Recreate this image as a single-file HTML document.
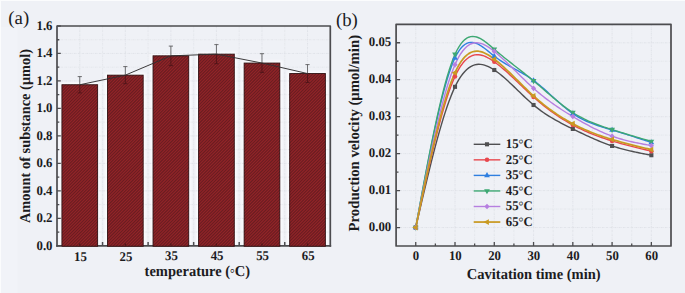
<!DOCTYPE html>
<html lang="en"><head><meta charset="utf-8"><title>Figure</title>
<style>
html,body{margin:0;padding:0;background:#eff1f6;}
body{width:685px;height:293px;overflow:hidden;position:relative}
svg{position:absolute;left:0;top:0;display:block}
text{font-family:'Liberation Serif','DejaVu Serif',serif;fill:#1c1c1e;text-rendering:geometricPrecision}
.tk{font-size:12.8px;font-weight:bold}
.tt{font-size:14.5px;font-weight:bold}
  .pl{font-size:18.8px;font-weight:normal}
.dg{font-weight:normal;font-size:11.5px}
.dg2{font-weight:normal;font-size:12.2px}
</style></head><body>
<svg width="685" height="293" viewBox="0 0 685 293">
<defs><filter id="bl" x="-20%" y="-10%" width="140%" height="120%"><feGaussianBlur stdDeviation="1.1"/></filter></defs>
<rect width="685" height="293" fill="#eff1f6"/>
<rect x="1" y="27" width="16.5" height="293" fill="#f1f3f8"/>
<path d="M0 0.5 H685 M0.5 0 V293" stroke="#fbfcfd" stroke-width="1"/>
<rect x="59.33" y="82.55" width="40.90" height="162.65" fill="#fbfcfe" filter="url(#bl)"/>
<rect x="104.88" y="72.95" width="40.90" height="172.25" fill="#fbfcfe" filter="url(#bl)"/>
<rect x="150.43" y="53.65" width="40.90" height="191.55" fill="#fbfcfe" filter="url(#bl)"/>
<rect x="195.98" y="51.95" width="40.90" height="193.25" fill="#fbfcfe" filter="url(#bl)"/>
<rect x="241.53" y="60.85" width="40.90" height="184.35" fill="#fbfcfe" filter="url(#bl)"/>
<rect x="287.07" y="71.35" width="40.90" height="173.85" fill="#fbfcfe" filter="url(#bl)"/>
<path d="M79.78 26.0 V245.8 M125.33 26.0 V245.8 M170.88 26.0 V245.8 M216.43 26.0 V245.8 M261.98 26.0 V245.8 M307.52 26.0 V245.8 M57.0 218.33 H330.3 M57.0 190.85 H330.3 M57.0 163.38 H330.3 M57.0 135.90 H330.3 M57.0 108.43 H330.3 M57.0 80.95 H330.3 M57.0 53.47 H330.3" stroke="#d9dbe1" stroke-width="0.65" stroke-dasharray="1.8 0.9 0.6 0.9" fill="none"/>
<path d="M102.55 26.0 V245.8 M148.10 26.0 V245.8 M193.65 26.0 V245.8 M239.20 26.0 V245.8 M284.75 26.0 V245.8 M57.0 232.06 H330.3 M57.0 204.59 H330.3 M57.0 177.11 H330.3 M57.0 149.64 H330.3 M57.0 122.16 H330.3 M57.0 94.69 H330.3 M57.0 67.21 H330.3 M57.0 39.74 H330.3" stroke="#dfe1e7" stroke-width="0.65" stroke-dasharray="1.8 0.9 0.6 0.9" fill="none"/>
<path d="M79.78 245.8 v-2.6 M102.55 245.8 v-3.9 M125.33 245.8 v-2.6 M148.10 245.8 v-3.9 M170.88 245.8 v-2.6 M193.65 245.8 v-3.9 M216.43 245.8 v-2.6 M239.20 245.8 v-3.9 M261.98 245.8 v-2.6 M284.75 245.8 v-3.9 M307.52 245.8 v-2.6" stroke="#4c4c4f" stroke-width="1.5" fill="none"/>
<path d="M56.15 245.8 H331.15000000000003" stroke="#4c4c4f" stroke-width="1.7" fill="none"/>
<clipPath id="cb15"><rect x="61.93" y="84.75" width="35.7" height="161.50"/></clipPath>
<rect x="61.93" y="84.75" width="35.7" height="161.50" fill="#942529"/>
<path clip-path="url(#cb15)" d="M60.93 83.36L98.62 45.66M60.93 86.43L98.62 48.73M60.93 89.50L98.62 51.80M60.93 92.57L98.62 54.87M60.93 95.64L98.62 57.94M60.93 98.71L98.62 61.01M60.93 101.78L98.62 64.08M60.93 104.85L98.62 67.15M60.93 107.92L98.62 70.22M60.93 110.99L98.62 73.29M60.93 114.06L98.62 76.36M60.93 117.13L98.62 79.43M60.93 120.20L98.62 82.50M60.93 123.27L98.62 85.57M60.93 126.34L98.62 88.64M60.93 129.41L98.62 91.71M60.93 132.48L98.62 94.78M60.93 135.55L98.62 97.85M60.93 138.62L98.62 100.92M60.93 141.69L98.62 103.99M60.93 144.76L98.62 107.06M60.93 147.83L98.62 110.13M60.93 150.90L98.62 113.20M60.93 153.97L98.62 116.27M60.93 157.04L98.62 119.34M60.93 160.11L98.62 122.41M60.93 163.18L98.62 125.48M60.93 166.25L98.62 128.55M60.93 169.32L98.62 131.62M60.93 172.39L98.62 134.69M60.93 175.46L98.62 137.76M60.93 178.53L98.62 140.83M60.93 181.60L98.62 143.90M60.93 184.67L98.62 146.97M60.93 187.74L98.62 150.04M60.93 190.81L98.62 153.11M60.93 193.88L98.62 156.18M60.93 196.95L98.62 159.25M60.93 200.02L98.62 162.32M60.93 203.09L98.62 165.39M60.93 206.16L98.62 168.46M60.93 209.23L98.62 171.53M60.93 212.30L98.62 174.60M60.93 215.37L98.62 177.67M60.93 218.44L98.62 180.74M60.93 221.51L98.62 183.81M60.93 224.58L98.62 186.88M60.93 227.65L98.62 189.95M60.93 230.72L98.62 193.02M60.93 233.79L98.62 196.09M60.93 236.86L98.62 199.16M60.93 239.93L98.62 202.23M60.93 243.00L98.62 205.30M60.93 246.07L98.62 208.37M60.93 249.14L98.62 211.44M60.93 252.21L98.62 214.51M60.93 255.28L98.62 217.58M60.93 258.35L98.62 220.65M60.93 261.42L98.62 223.72M60.93 264.49L98.62 226.79M60.93 267.56L98.62 229.86M60.93 270.63L98.62 232.93M60.93 273.70L98.62 236.00M60.93 276.77L98.62 239.07M60.93 279.84L98.62 242.14M60.93 282.91L98.62 245.21" stroke="#6a1d21" stroke-width="1.1" fill="none"/>
<rect x="61.93" y="84.75" width="35.7" height="161.50" fill="none" stroke="#321416" stroke-width="0.9"/>
<clipPath id="cb25"><rect x="107.47" y="75.15" width="35.7" height="171.10"/></clipPath>
<rect x="107.47" y="75.15" width="35.7" height="171.10" fill="#942529"/>
<path clip-path="url(#cb25)" d="M106.47 74.66L144.18 36.95M106.47 77.72L144.18 40.02M106.47 80.79L144.18 43.09M106.47 83.86L144.18 46.16M106.47 86.93L144.18 49.23M106.47 90.00L144.18 52.30M106.47 93.07L144.18 55.37M106.47 96.14L144.18 58.44M106.47 99.21L144.18 61.51M106.47 102.28L144.18 64.58M106.47 105.35L144.18 67.65M106.47 108.42L144.18 70.72M106.47 111.49L144.18 73.79M106.47 114.56L144.18 76.86M106.47 117.63L144.18 79.93M106.47 120.70L144.18 83.00M106.47 123.77L144.18 86.07M106.47 126.84L144.18 89.14M106.47 129.91L144.18 92.21M106.47 132.98L144.18 95.28M106.47 136.05L144.18 98.35M106.47 139.12L144.18 101.42M106.47 142.19L144.18 104.49M106.47 145.26L144.18 107.56M106.47 148.33L144.18 110.63M106.47 151.40L144.18 113.70M106.47 154.47L144.18 116.77M106.47 157.54L144.18 119.84M106.47 160.61L144.18 122.91M106.47 163.68L144.18 125.98M106.47 166.75L144.18 129.05M106.47 169.82L144.18 132.12M106.47 172.89L144.18 135.19M106.47 175.96L144.18 138.26M106.47 179.03L144.18 141.33M106.47 182.10L144.18 144.40M106.47 185.17L144.18 147.47M106.47 188.24L144.18 150.54M106.47 191.31L144.18 153.61M106.47 194.38L144.18 156.68M106.47 197.45L144.18 159.75M106.47 200.52L144.18 162.82M106.47 203.59L144.18 165.89M106.47 206.66L144.18 168.96M106.47 209.73L144.18 172.03M106.47 212.80L144.18 175.10M106.47 215.87L144.18 178.17M106.47 218.94L144.18 181.24M106.47 222.01L144.18 184.31M106.47 225.08L144.18 187.38M106.47 228.15L144.18 190.45M106.47 231.22L144.18 193.52M106.47 234.29L144.18 196.59M106.47 237.36L144.18 199.66M106.47 240.43L144.18 202.73M106.47 243.50L144.18 205.80M106.47 246.57L144.18 208.87M106.47 249.64L144.18 211.94M106.47 252.71L144.18 215.01M106.47 255.78L144.18 218.08M106.47 258.85L144.18 221.15M106.47 261.92L144.18 224.22M106.47 264.99L144.18 227.29M106.47 268.06L144.18 230.36M106.47 271.13L144.18 233.43M106.47 274.20L144.18 236.50M106.47 277.27L144.18 239.57M106.47 280.34L144.18 242.64M106.47 283.41L144.18 245.71" stroke="#6a1d21" stroke-width="1.1" fill="none"/>
<rect x="107.47" y="75.15" width="35.7" height="171.10" fill="none" stroke="#321416" stroke-width="0.9"/>
<clipPath id="cb35"><rect x="153.03" y="55.85" width="35.7" height="190.40"/></clipPath>
<rect x="153.03" y="55.85" width="35.7" height="190.40" fill="#942529"/>
<path clip-path="url(#cb35)" d="M152.03 56.73L189.73 19.03M152.03 59.80L189.73 22.10M152.03 62.87L189.73 25.17M152.03 65.94L189.73 28.24M152.03 69.01L189.73 31.31M152.03 72.08L189.73 34.38M152.03 75.15L189.73 37.45M152.03 78.22L189.73 40.52M152.03 81.29L189.73 43.59M152.03 84.36L189.73 46.66M152.03 87.43L189.73 49.73M152.03 90.50L189.73 52.80M152.03 93.57L189.73 55.87M152.03 96.64L189.73 58.94M152.03 99.71L189.73 62.01M152.03 102.78L189.73 65.08M152.03 105.85L189.73 68.15M152.03 108.92L189.73 71.22M152.03 111.99L189.73 74.29M152.03 115.06L189.73 77.36M152.03 118.13L189.73 80.43M152.03 121.20L189.73 83.50M152.03 124.27L189.73 86.57M152.03 127.34L189.73 89.64M152.03 130.41L189.73 92.71M152.03 133.48L189.73 95.78M152.03 136.55L189.73 98.85M152.03 139.62L189.73 101.92M152.03 142.69L189.73 104.99M152.03 145.76L189.73 108.06M152.03 148.83L189.73 111.13M152.03 151.90L189.73 114.20M152.03 154.97L189.73 117.27M152.03 158.04L189.73 120.34M152.03 161.11L189.73 123.41M152.03 164.18L189.73 126.48M152.03 167.25L189.73 129.55M152.03 170.32L189.73 132.62M152.03 173.39L189.73 135.69M152.03 176.46L189.73 138.76M152.03 179.53L189.73 141.83M152.03 182.60L189.73 144.90M152.03 185.67L189.73 147.97M152.03 188.74L189.73 151.04M152.03 191.81L189.73 154.11M152.03 194.88L189.73 157.18M152.03 197.95L189.73 160.25M152.03 201.02L189.73 163.32M152.03 204.09L189.73 166.39M152.03 207.16L189.73 169.46M152.03 210.23L189.73 172.53M152.03 213.30L189.73 175.60M152.03 216.37L189.73 178.67M152.03 219.44L189.73 181.74M152.03 222.51L189.73 184.81M152.03 225.58L189.73 187.88M152.03 228.65L189.73 190.95M152.03 231.72L189.73 194.02M152.03 234.79L189.73 197.09M152.03 237.86L189.73 200.16M152.03 240.93L189.73 203.23M152.03 244.00L189.73 206.30M152.03 247.07L189.73 209.37M152.03 250.14L189.73 212.44M152.03 253.21L189.73 215.51M152.03 256.28L189.73 218.58M152.03 259.35L189.73 221.65M152.03 262.42L189.73 224.72M152.03 265.49L189.73 227.79M152.03 268.56L189.73 230.86M152.03 271.63L189.73 233.93M152.03 274.70L189.73 237.00M152.03 277.77L189.73 240.07M152.03 280.84L189.73 243.14M152.03 283.91L189.73 246.21" stroke="#6a1d21" stroke-width="1.1" fill="none"/>
<rect x="153.03" y="55.85" width="35.7" height="190.40" fill="none" stroke="#321416" stroke-width="0.9"/>
<clipPath id="cb45"><rect x="198.58" y="54.15" width="35.7" height="192.10"/></clipPath>
<rect x="198.58" y="54.15" width="35.7" height="192.10" fill="#942529"/>
<path clip-path="url(#cb45)" d="M197.58 54.16L235.28 16.46M197.58 57.23L235.28 19.53M197.58 60.30L235.28 22.60M197.58 63.37L235.28 25.67M197.58 66.44L235.28 28.74M197.58 69.51L235.28 31.81M197.58 72.58L235.28 34.88M197.58 75.65L235.28 37.95M197.58 78.72L235.28 41.02M197.58 81.79L235.28 44.09M197.58 84.86L235.28 47.16M197.58 87.93L235.28 50.23M197.58 91.00L235.28 53.30M197.58 94.07L235.28 56.37M197.58 97.14L235.28 59.44M197.58 100.21L235.28 62.51M197.58 103.28L235.28 65.58M197.58 106.35L235.28 68.65M197.58 109.42L235.28 71.72M197.58 112.49L235.28 74.79M197.58 115.56L235.28 77.86M197.58 118.63L235.28 80.93M197.58 121.70L235.28 84.00M197.58 124.77L235.28 87.07M197.58 127.84L235.28 90.14M197.58 130.91L235.28 93.21M197.58 133.98L235.28 96.28M197.58 137.05L235.28 99.35M197.58 140.12L235.28 102.42M197.58 143.19L235.28 105.49M197.58 146.26L235.28 108.56M197.58 149.33L235.28 111.63M197.58 152.40L235.28 114.70M197.58 155.47L235.28 117.77M197.58 158.54L235.28 120.84M197.58 161.61L235.28 123.91M197.58 164.68L235.28 126.98M197.58 167.75L235.28 130.05M197.58 170.82L235.28 133.12M197.58 173.89L235.28 136.19M197.58 176.96L235.28 139.26M197.58 180.03L235.28 142.33M197.58 183.10L235.28 145.40M197.58 186.17L235.28 148.47M197.58 189.24L235.28 151.54M197.58 192.31L235.28 154.61M197.58 195.38L235.28 157.68M197.58 198.45L235.28 160.75M197.58 201.52L235.28 163.82M197.58 204.59L235.28 166.89M197.58 207.66L235.28 169.96M197.58 210.73L235.28 173.03M197.58 213.80L235.28 176.10M197.58 216.87L235.28 179.17M197.58 219.94L235.28 182.24M197.58 223.01L235.28 185.31M197.58 226.08L235.28 188.38M197.58 229.15L235.28 191.45M197.58 232.22L235.28 194.52M197.58 235.29L235.28 197.59M197.58 238.36L235.28 200.66M197.58 241.43L235.28 203.73M197.58 244.50L235.28 206.80M197.58 247.57L235.28 209.87M197.58 250.64L235.28 212.94M197.58 253.71L235.28 216.01M197.58 256.78L235.28 219.08M197.58 259.85L235.28 222.15M197.58 262.92L235.28 225.22M197.58 265.99L235.28 228.29M197.58 269.06L235.28 231.36M197.58 272.13L235.28 234.43M197.58 275.20L235.28 237.50M197.58 278.27L235.28 240.57M197.58 281.34L235.28 243.64M197.58 284.41L235.28 246.71" stroke="#6a1d21" stroke-width="1.1" fill="none"/>
<rect x="198.58" y="54.15" width="35.7" height="192.10" fill="none" stroke="#321416" stroke-width="0.9"/>
<clipPath id="cb55"><rect x="244.13" y="63.05" width="35.7" height="183.20"/></clipPath>
<rect x="244.13" y="63.05" width="35.7" height="183.20" fill="#942529"/>
<path clip-path="url(#cb55)" d="M243.13 63.87L280.83 26.17M243.13 66.94L280.83 29.24M243.13 70.01L280.83 32.31M243.13 73.08L280.83 35.38M243.13 76.15L280.83 38.45M243.13 79.22L280.83 41.52M243.13 82.29L280.83 44.59M243.13 85.36L280.83 47.66M243.13 88.43L280.83 50.73M243.13 91.50L280.83 53.80M243.13 94.57L280.83 56.87M243.13 97.64L280.83 59.94M243.13 100.71L280.83 63.01M243.13 103.78L280.83 66.08M243.13 106.85L280.83 69.15M243.13 109.92L280.83 72.22M243.13 112.99L280.83 75.29M243.13 116.06L280.83 78.36M243.13 119.13L280.83 81.43M243.13 122.20L280.83 84.50M243.13 125.27L280.83 87.57M243.13 128.34L280.83 90.64M243.13 131.41L280.83 93.71M243.13 134.48L280.83 96.78M243.13 137.55L280.83 99.85M243.13 140.62L280.83 102.92M243.13 143.69L280.83 105.99M243.13 146.76L280.83 109.06M243.13 149.83L280.83 112.13M243.13 152.90L280.83 115.20M243.13 155.97L280.83 118.27M243.13 159.04L280.83 121.34M243.13 162.11L280.83 124.41M243.13 165.18L280.83 127.48M243.13 168.25L280.83 130.55M243.13 171.32L280.83 133.62M243.13 174.39L280.83 136.69M243.13 177.46L280.83 139.76M243.13 180.53L280.83 142.83M243.13 183.60L280.83 145.90M243.13 186.67L280.83 148.97M243.13 189.74L280.83 152.04M243.13 192.81L280.83 155.11M243.13 195.88L280.83 158.18M243.13 198.95L280.83 161.25M243.13 202.02L280.83 164.32M243.13 205.09L280.83 167.39M243.13 208.16L280.83 170.46M243.13 211.23L280.83 173.53M243.13 214.30L280.83 176.60M243.13 217.37L280.83 179.67M243.13 220.44L280.83 182.74M243.13 223.51L280.83 185.81M243.13 226.58L280.83 188.88M243.13 229.65L280.83 191.95M243.13 232.72L280.83 195.02M243.13 235.79L280.83 198.09M243.13 238.86L280.83 201.16M243.13 241.93L280.83 204.23M243.13 245.00L280.83 207.30M243.13 248.07L280.83 210.37M243.13 251.14L280.83 213.44M243.13 254.21L280.83 216.51M243.13 257.28L280.83 219.58M243.13 260.35L280.83 222.65M243.13 263.42L280.83 225.72M243.13 266.49L280.83 228.79M243.13 269.56L280.83 231.86M243.13 272.63L280.83 234.93M243.13 275.70L280.83 238.00M243.13 278.77L280.83 241.07M243.13 281.84L280.83 244.14M243.13 284.91L280.83 247.21" stroke="#6a1d21" stroke-width="1.1" fill="none"/>
<rect x="244.13" y="63.05" width="35.7" height="183.20" fill="none" stroke="#321416" stroke-width="0.9"/>
<clipPath id="cb65"><rect x="289.67" y="73.55" width="35.7" height="172.70"/></clipPath>
<rect x="289.67" y="73.55" width="35.7" height="172.70" fill="#942529"/>
<path clip-path="url(#cb65)" d="M288.67 73.59L326.37 35.89M288.67 76.66L326.37 38.96M288.67 79.73L326.37 42.03M288.67 82.80L326.37 45.10M288.67 85.87L326.37 48.17M288.67 88.94L326.37 51.23M288.67 92.00L326.37 54.30M288.67 95.07L326.37 57.37M288.67 98.14L326.37 60.44M288.67 101.21L326.37 63.51M288.67 104.28L326.37 66.58M288.67 107.35L326.37 69.65M288.67 110.42L326.37 72.72M288.67 113.49L326.37 75.79M288.67 116.56L326.37 78.86M288.67 119.63L326.37 81.93M288.67 122.70L326.37 85.00M288.67 125.77L326.37 88.07M288.67 128.84L326.37 91.14M288.67 131.91L326.37 94.21M288.67 134.98L326.37 97.28M288.67 138.05L326.37 100.35M288.67 141.12L326.37 103.42M288.67 144.19L326.37 106.49M288.67 147.26L326.37 109.56M288.67 150.33L326.37 112.63M288.67 153.40L326.37 115.70M288.67 156.47L326.37 118.77M288.67 159.54L326.37 121.84M288.67 162.61L326.37 124.91M288.67 165.68L326.37 127.98M288.67 168.75L326.37 131.05M288.67 171.82L326.37 134.12M288.67 174.89L326.37 137.19M288.67 177.96L326.37 140.26M288.67 181.03L326.37 143.33M288.67 184.10L326.37 146.40M288.67 187.17L326.37 149.47M288.67 190.24L326.37 152.54M288.67 193.31L326.37 155.61M288.67 196.38L326.37 158.68M288.67 199.45L326.37 161.75M288.67 202.52L326.37 164.82M288.67 205.59L326.37 167.89M288.67 208.66L326.37 170.96M288.67 211.73L326.37 174.03M288.67 214.80L326.37 177.10M288.67 217.87L326.37 180.17M288.67 220.94L326.37 183.24M288.67 224.01L326.37 186.31M288.67 227.08L326.37 189.38M288.67 230.15L326.37 192.45M288.67 233.22L326.37 195.52M288.67 236.29L326.37 198.59M288.67 239.37L326.37 201.67M288.67 242.44L326.37 204.74M288.67 245.51L326.37 207.81M288.67 248.58L326.37 210.88M288.67 251.65L326.37 213.95M288.67 254.72L326.37 217.02M288.67 257.79L326.37 220.09M288.67 260.86L326.37 223.16M288.67 263.93L326.37 226.23M288.67 267.00L326.37 229.30M288.67 270.07L326.37 232.37M288.67 273.14L326.37 235.44M288.67 276.21L326.37 238.51M288.67 279.28L326.37 241.58M288.67 282.35L326.37 244.65M288.67 285.42L326.37 247.72" stroke="#6a1d21" stroke-width="1.1" fill="none"/>
<rect x="289.67" y="73.55" width="35.7" height="172.70" fill="none" stroke="#321416" stroke-width="0.9"/>
<polyline points="79.78,84.75 125.33,75.15 170.88,55.85 216.43,54.15 261.98,63.05 307.52,73.55" fill="none" stroke="#333031" stroke-width="0.95"/>
<path d="M79.78 76.60 V84.75 M77.68 76.60 H81.88" stroke="#4c4c4e" stroke-width="0.8" fill="none"/>
<path d="M79.78 84.75 V92.90 M77.68 92.90 H81.88" stroke="#4a1316" stroke-width="0.8" fill="none"/>
<path d="M125.33 66.60 V75.15 M123.23 66.60 H127.42" stroke="#4c4c4e" stroke-width="0.8" fill="none"/>
<path d="M125.33 75.15 V83.70 M123.23 83.70 H127.42" stroke="#4a1316" stroke-width="0.8" fill="none"/>
<path d="M170.88 46.10 V55.85 M168.78 46.10 H172.97" stroke="#4c4c4e" stroke-width="0.8" fill="none"/>
<path d="M170.88 55.85 V65.60 M168.78 65.60 H172.97" stroke="#4a1316" stroke-width="0.8" fill="none"/>
<path d="M216.43 44.60 V54.15 M214.33 44.60 H218.53" stroke="#4c4c4e" stroke-width="0.8" fill="none"/>
<path d="M216.43 54.15 V63.70 M214.33 63.70 H218.53" stroke="#4a1316" stroke-width="0.8" fill="none"/>
<path d="M261.98 53.70 V63.05 M259.88 53.70 H264.08" stroke="#4c4c4e" stroke-width="0.8" fill="none"/>
<path d="M261.98 63.05 V72.40 M259.88 72.40 H264.08" stroke="#4a1316" stroke-width="0.8" fill="none"/>
<path d="M307.52 64.60 V73.55 M305.42 64.60 H309.62" stroke="#4c4c4e" stroke-width="0.8" fill="none"/>
<path d="M307.52 73.55 V82.50 M305.42 82.50 H309.62" stroke="#4a1316" stroke-width="0.8" fill="none"/>
<path d="M57.0 245.80 h3.8 M57.0 232.06 h2.3 M57.0 218.33 h3.8 M57.0 204.59 h2.3 M57.0 190.85 h3.8 M57.0 177.11 h2.3 M57.0 163.38 h3.8 M57.0 149.64 h2.3 M57.0 135.90 h3.8 M57.0 122.16 h2.3 M57.0 108.43 h3.8 M57.0 94.69 h2.3 M57.0 80.95 h3.8 M57.0 67.21 h2.3 M57.0 53.47 h3.8 M57.0 39.74 h2.3 M57.0 26.00 h3.8" stroke="#4c4c4f" stroke-width="1.3" fill="none"/>
<path d="M79.78 245.60000000000002 v-2.2 M125.33 245.60000000000002 v-2.2 M170.88 245.60000000000002 v-2.2 M216.43 245.60000000000002 v-2.2 M261.98 245.60000000000002 v-2.2 M307.52 245.60000000000002 v-2.2" stroke="#4a1719" stroke-width="1.2" fill="none"/>
<path d="M57.0 246.65 V26.0 H330.3 V246.65" fill="none" stroke="#4c4c4f" stroke-width="1.7" stroke-linejoin="round"/>
<text transform="translate(52.50 249.70) scale(1 1.035)" text-anchor="end" class="tk">0.0</text>
<text transform="translate(52.50 222.23) scale(1 1.035)" text-anchor="end" class="tk">0.2</text>
<text transform="translate(52.50 194.75) scale(1 1.035)" text-anchor="end" class="tk">0.4</text>
<text transform="translate(52.50 167.28) scale(1 1.035)" text-anchor="end" class="tk">0.6</text>
<text transform="translate(52.50 139.80) scale(1 1.035)" text-anchor="end" class="tk">0.8</text>
<text transform="translate(52.50 112.33) scale(1 1.035)" text-anchor="end" class="tk">1.0</text>
<text transform="translate(52.50 84.85) scale(1 1.035)" text-anchor="end" class="tk">1.2</text>
<text transform="translate(52.50 57.37) scale(1 1.035)" text-anchor="end" class="tk">1.4</text>
<text transform="translate(52.50 29.90) scale(1 1.035)" text-anchor="end" class="tk">1.6</text>
<text transform="translate(80.38 261.10) scale(1 1.035)" text-anchor="middle" class="tk">15</text>
<text transform="translate(125.92 261.10) scale(1 1.035)" text-anchor="middle" class="tk">25</text>
<text transform="translate(171.47 260.40) scale(1 1.035)" text-anchor="middle" class="tk">35</text>
<text transform="translate(217.03 260.30) scale(1 1.035)" text-anchor="middle" class="tk">45</text>
<text transform="translate(262.58 260.10) scale(1 1.035)" text-anchor="middle" class="tk">55</text>
<text transform="translate(308.12 260.10) scale(1 1.035)" text-anchor="middle" class="tk">65</text>
<text transform="translate(197.30 275.70) scale(1 1.04)" text-anchor="middle" class="tt">temperature (<tspan class="dg" dy="0.9">°</tspan><tspan dy="-0.9">C)</tspan></text>
<text transform="translate(29.9 136.0) rotate(-90) scale(1 1.04)" text-anchor="middle" class="tt" style="font-size:14.4px">Amount of substance (μmol)</text>
<text x="8.3" y="23.9" class="pl">(a)</text>
<path d="M415.74 24.3 V246.0 M455.01 24.3 V246.0 M494.28 24.3 V246.0 M533.55 24.3 V246.0 M572.82 24.3 V246.0 M612.09 24.3 V246.0 M651.36 24.3 V246.0 M396.1 227.53 H671.0 M396.1 190.57 H671.0 M396.1 153.62 H671.0 M396.1 116.68 H671.0 M396.1 79.72 H671.0 M396.1 42.77 H671.0" stroke="#d9dbe1" stroke-width="0.65" stroke-dasharray="1.8 0.9 0.6 0.9" fill="none"/>
<path d="M435.37 24.3 V246.0 M474.64 24.3 V246.0 M513.91 24.3 V246.0 M553.19 24.3 V246.0 M592.46 24.3 V246.0 M631.73 24.3 V246.0 M396.1 209.05 H671.0 M396.1 172.10 H671.0 M396.1 135.15 H671.0 M396.1 98.20 H671.0 M396.1 61.25 H671.0" stroke="#dfe1e7" stroke-width="0.65" stroke-dasharray="1.8 0.9 0.6 0.9" fill="none"/>
<path d="M415.74 227.53 L417.70 219.03 L419.66 210.55 L421.63 202.12 L423.59 193.76 L425.55 185.48 L427.52 177.32 L429.48 169.28 L431.44 161.40 L433.41 153.70 L435.37 146.19 L437.34 138.90 L439.30 131.85 L441.26 125.07 L443.23 118.57 L445.19 112.38 L447.15 106.52 L449.12 101.02 L451.08 95.88 L453.04 91.14 L455.01 86.82 L456.97 82.93 L458.93 79.46 L460.90 76.40 L462.86 73.73 L464.83 71.43 L466.79 69.48 L468.75 67.87 L470.72 66.59 L472.68 65.60 L474.64 64.91 L476.61 64.48 L478.57 64.31 L480.53 64.37 L482.50 64.65 L484.46 65.14 L486.42 65.81 L488.39 66.65 L490.35 67.64 L492.31 68.76 L494.28 70.01 L496.24 71.35 L498.21 72.79 L500.17 74.31 L502.13 75.91 L504.10 77.58 L506.06 79.30 L508.02 81.08 L509.99 82.90 L511.95 84.75 L513.91 86.63 L515.88 88.53 L517.84 90.43 L519.81 92.34 L521.77 94.24 L523.73 96.12 L525.70 97.98 L527.66 99.80 L529.62 101.59 L531.59 103.32 L533.55 105.00 L535.51 106.61 L537.48 108.16 L539.44 109.65 L541.40 111.09 L543.37 112.47 L545.33 113.80 L547.30 115.08 L549.26 116.32 L551.22 117.52 L553.19 118.68 L555.15 119.81 L557.11 120.91 L559.08 121.98 L561.04 123.02 L563.00 124.04 L564.97 125.05 L566.93 126.04 L568.89 127.01 L570.86 127.98 L572.82 128.94 L574.78 129.90 L576.75 130.86 L578.71 131.81 L580.68 132.75 L582.64 133.69 L584.60 134.62 L586.57 135.53 L588.53 136.44 L590.49 137.33 L592.46 138.21 L594.42 139.07 L596.38 139.92 L598.35 140.75 L600.31 141.56 L602.27 142.35 L604.24 143.12 L606.20 143.86 L608.17 144.58 L610.13 145.27 L612.09 145.94 L614.06 146.58 L616.02 147.19 L617.98 147.78 L619.95 148.34 L621.91 148.88 L623.87 149.40 L625.84 149.89 L627.80 150.37 L629.76 150.84 L631.73 151.29 L633.69 151.72 L635.66 152.14 L637.62 152.55 L639.58 152.95 L641.55 153.34 L643.51 153.72 L645.47 154.10 L647.44 154.47 L649.40 154.84 L651.36 155.21" fill="none" stroke="#4f4f51" stroke-width="1.4" stroke-linejoin="round"/>
<path d="M415.74 227.53 L417.70 218.33 L419.66 209.15 L421.63 200.03 L423.59 190.98 L425.55 182.03 L427.52 173.20 L429.48 164.52 L431.44 156.02 L433.41 147.71 L435.37 139.62 L437.34 131.78 L439.30 124.21 L441.26 116.94 L443.23 109.99 L445.19 103.38 L447.15 97.15 L449.12 91.30 L451.08 85.88 L453.04 80.91 L455.01 76.40 L456.97 72.38 L458.93 68.83 L460.90 65.73 L462.86 63.07 L464.83 60.81 L466.79 58.94 L468.75 57.44 L470.72 56.28 L472.68 55.46 L474.64 54.93 L476.61 54.69 L478.57 54.71 L480.53 54.97 L482.50 55.46 L484.46 56.14 L486.42 57.00 L488.39 58.02 L490.35 59.17 L492.31 60.44 L494.28 61.80 L496.24 63.24 L498.21 64.75 L500.17 66.32 L502.13 67.94 L504.10 69.62 L506.06 71.34 L508.02 73.10 L509.99 74.90 L511.95 76.72 L513.91 78.57 L515.88 80.44 L517.84 82.31 L519.81 84.20 L521.77 86.08 L523.73 87.96 L525.70 89.83 L527.66 91.68 L529.62 93.51 L531.59 95.32 L533.55 97.09 L535.51 98.83 L537.48 100.52 L539.44 102.19 L541.40 103.81 L543.37 105.40 L545.33 106.95 L547.30 108.46 L549.26 109.94 L551.22 111.38 L553.19 112.79 L555.15 114.16 L557.11 115.50 L559.08 116.80 L561.04 118.07 L563.00 119.31 L564.97 120.51 L566.93 121.68 L568.89 122.81 L570.86 123.92 L572.82 124.99 L574.78 126.03 L576.75 127.04 L578.71 128.02 L580.68 128.97 L582.64 129.89 L584.60 130.78 L586.57 131.65 L588.53 132.49 L590.49 133.31 L592.46 134.11 L594.42 134.88 L596.38 135.63 L598.35 136.36 L600.31 137.07 L602.27 137.76 L604.24 138.43 L606.20 139.08 L608.17 139.72 L610.13 140.34 L612.09 140.95 L614.06 141.55 L616.02 142.13 L617.98 142.70 L619.95 143.25 L621.91 143.80 L623.87 144.34 L625.84 144.86 L627.80 145.38 L629.76 145.89 L631.73 146.39 L633.69 146.89 L635.66 147.38 L637.62 147.86 L639.58 148.34 L641.55 148.81 L643.51 149.28 L645.47 149.75 L647.44 150.22 L649.40 150.68 L651.36 151.15" fill="none" stroke="#e8474d" stroke-width="1.4" stroke-linejoin="round"/>
<path d="M415.74 227.53 L417.70 216.88 L419.66 206.26 L421.63 195.71 L423.59 185.26 L425.55 174.94 L427.52 164.78 L429.48 154.81 L431.44 145.08 L433.41 135.60 L435.37 126.42 L437.34 117.56 L439.30 109.06 L441.26 100.95 L443.23 93.26 L445.19 86.03 L447.15 79.29 L449.12 73.07 L451.08 67.40 L453.04 62.32 L455.01 57.85 L456.97 54.03 L458.93 50.81 L460.90 48.18 L462.86 46.09 L464.83 44.50 L466.79 43.38 L468.75 42.68 L470.72 42.39 L472.68 42.45 L474.64 42.82 L476.61 43.49 L478.57 44.40 L480.53 45.52 L482.50 46.81 L484.46 48.24 L486.42 49.77 L488.39 51.36 L490.35 52.98 L492.31 54.59 L494.28 56.15 L496.24 57.64 L498.21 59.05 L500.17 60.39 L502.13 61.67 L504.10 62.90 L506.06 64.08 L508.02 65.23 L509.99 66.35 L511.95 67.45 L513.91 68.54 L515.88 69.62 L517.84 70.71 L519.81 71.80 L521.77 72.92 L523.73 74.06 L525.70 75.24 L527.66 76.46 L529.62 77.74 L531.59 79.07 L533.55 80.46 L535.51 81.93 L537.48 83.47 L539.44 85.07 L541.40 86.71 L543.37 88.40 L545.33 90.13 L547.30 91.88 L549.26 93.65 L551.22 95.43 L553.19 97.22 L555.15 99.00 L557.11 100.78 L559.08 102.53 L561.04 104.25 L563.00 105.94 L564.97 107.58 L566.93 109.18 L568.89 110.71 L570.86 112.18 L572.82 113.57 L574.78 114.88 L576.75 116.12 L578.71 117.28 L580.68 118.37 L582.64 119.39 L584.60 120.35 L586.57 121.26 L588.53 122.12 L590.49 122.93 L592.46 123.69 L594.42 124.42 L596.38 125.12 L598.35 125.78 L600.31 126.42 L602.27 127.04 L604.24 127.64 L606.20 128.23 L608.17 128.81 L610.13 129.39 L612.09 129.98 L614.06 130.56 L616.02 131.16 L617.98 131.76 L619.95 132.36 L621.91 132.97 L623.87 133.58 L625.84 134.20 L627.80 134.82 L629.76 135.44 L631.73 136.07 L633.69 136.70 L635.66 137.34 L637.62 137.97 L639.58 138.61 L641.55 139.25 L643.51 139.89 L645.47 140.53 L647.44 141.18 L649.40 141.82 L651.36 142.47" fill="none" stroke="#2f7fe0" stroke-width="1.4" stroke-linejoin="round"/>
<path d="M415.74 227.53 L417.70 216.75 L419.66 206.01 L421.63 195.33 L423.59 184.74 L425.55 174.28 L427.52 163.99 L429.48 153.88 L431.44 144.00 L433.41 134.37 L435.37 125.03 L437.34 116.00 L439.30 107.33 L441.26 99.04 L443.23 91.16 L445.19 83.73 L447.15 76.78 L449.12 70.33 L451.08 64.43 L453.04 59.10 L455.01 54.38 L456.97 50.28 L458.93 46.79 L460.90 43.86 L462.86 41.48 L464.83 39.60 L466.79 38.19 L468.75 37.21 L470.72 36.64 L472.68 36.45 L474.64 36.59 L476.61 37.03 L478.57 37.75 L480.53 38.71 L482.50 39.87 L484.46 41.20 L486.42 42.67 L488.39 44.25 L490.35 45.90 L492.31 47.58 L494.28 49.28 L496.24 50.95 L498.21 52.60 L500.17 54.22 L502.13 55.83 L504.10 57.42 L506.06 58.99 L508.02 60.55 L509.99 62.10 L511.95 63.64 L513.91 65.18 L515.88 66.72 L517.84 68.25 L519.81 69.79 L521.77 71.33 L523.73 72.88 L525.70 74.44 L527.66 76.02 L529.62 77.60 L531.59 79.21 L533.55 80.83 L535.51 82.48 L537.48 84.14 L539.44 85.82 L541.40 87.51 L543.37 89.21 L545.33 90.91 L547.30 92.60 L549.26 94.29 L551.22 95.97 L553.19 97.63 L555.15 99.28 L557.11 100.90 L559.08 102.50 L561.04 104.06 L563.00 105.59 L564.97 107.08 L566.93 108.53 L568.89 109.93 L570.86 111.28 L572.82 112.57 L574.78 113.81 L576.75 114.99 L578.71 116.11 L580.68 117.18 L582.64 118.21 L584.60 119.19 L586.57 120.12 L588.53 121.02 L590.49 121.87 L592.46 122.70 L594.42 123.49 L596.38 124.25 L598.35 124.98 L600.31 125.69 L602.27 126.38 L604.24 127.05 L606.20 127.71 L608.17 128.35 L610.13 128.98 L612.09 129.61 L614.06 130.23 L616.02 130.84 L617.98 131.45 L619.95 132.06 L621.91 132.66 L623.87 133.27 L625.84 133.86 L627.80 134.46 L629.76 135.05 L631.73 135.64 L633.69 136.22 L635.66 136.81 L637.62 137.39 L639.58 137.97 L641.55 138.55 L643.51 139.13 L645.47 139.70 L647.44 140.28 L649.40 140.86 L651.36 141.43" fill="none" stroke="#3ea873" stroke-width="1.4" stroke-linejoin="round"/>
<path d="M415.74 227.53 L417.70 217.57 L419.66 207.64 L421.63 197.76 L423.59 187.97 L425.55 178.28 L427.52 168.74 L429.48 159.35 L431.44 150.16 L433.41 141.18 L435.37 132.45 L437.34 123.99 L439.30 115.84 L441.26 108.01 L443.23 100.53 L445.19 93.44 L447.15 86.75 L449.12 80.50 L451.08 74.72 L453.04 69.43 L455.01 64.65 L456.97 60.41 L458.93 56.69 L460.90 53.47 L462.86 50.73 L464.83 48.43 L466.79 46.55 L468.75 45.08 L470.72 43.98 L472.68 43.24 L474.64 42.83 L476.61 42.71 L478.57 42.88 L480.53 43.31 L482.50 43.96 L484.46 44.83 L486.42 45.88 L488.39 47.08 L490.35 48.43 L492.31 49.88 L494.28 51.42 L496.24 53.03 L498.21 54.69 L500.17 56.41 L502.13 58.17 L504.10 59.98 L506.06 61.82 L508.02 63.69 L509.99 65.59 L511.95 67.50 L513.91 69.43 L515.88 71.37 L517.84 73.32 L519.81 75.26 L521.77 77.19 L523.73 79.11 L525.70 81.01 L527.66 82.89 L529.62 84.74 L531.59 86.56 L533.55 88.33 L535.51 90.07 L537.48 91.75 L539.44 93.40 L541.40 95.01 L543.37 96.57 L545.33 98.11 L547.30 99.60 L549.26 101.06 L551.22 102.49 L553.19 103.89 L555.15 105.26 L557.11 106.60 L559.08 107.92 L561.04 109.21 L563.00 110.49 L564.97 111.74 L566.93 112.97 L568.89 114.18 L570.86 115.38 L572.82 116.56 L574.78 117.74 L576.75 118.89 L578.71 120.04 L580.68 121.16 L582.64 122.27 L584.60 123.37 L586.57 124.44 L588.53 125.49 L590.49 126.53 L592.46 127.53 L594.42 128.52 L596.38 129.48 L598.35 130.42 L600.31 131.33 L602.27 132.21 L604.24 133.06 L606.20 133.88 L608.17 134.67 L610.13 135.42 L612.09 136.15 L614.06 136.84 L616.02 137.49 L617.98 138.12 L619.95 138.71 L621.91 139.28 L623.87 139.82 L625.84 140.34 L627.80 140.83 L629.76 141.31 L631.73 141.76 L633.69 142.20 L635.66 142.62 L637.62 143.03 L639.58 143.43 L641.55 143.81 L643.51 144.19 L645.47 144.56 L647.44 144.92 L649.40 145.28 L651.36 145.64" fill="none" stroke="#b67fe0" stroke-width="1.4" stroke-linejoin="round"/>
<path d="M415.74 227.53 L417.70 218.08 L419.66 208.65 L421.63 199.28 L423.59 189.99 L425.55 180.79 L427.52 171.73 L429.48 162.82 L431.44 154.09 L433.41 145.56 L435.37 137.27 L437.34 129.23 L439.30 121.47 L441.26 114.02 L443.23 106.90 L445.19 100.14 L447.15 93.77 L449.12 87.81 L451.08 82.28 L453.04 77.21 L455.01 72.63 L456.97 68.56 L458.93 64.97 L460.90 61.85 L462.86 59.18 L464.83 56.94 L466.79 55.09 L468.75 53.63 L470.72 52.52 L472.68 51.75 L474.64 51.30 L476.61 51.13 L478.57 51.24 L480.53 51.59 L482.50 52.17 L484.46 52.95 L486.42 53.92 L488.39 55.04 L490.35 56.30 L492.31 57.67 L494.28 59.14 L496.24 60.69 L498.21 62.30 L500.17 63.96 L502.13 65.69 L504.10 67.46 L506.06 69.27 L508.02 71.12 L509.99 73.00 L511.95 74.90 L513.91 76.83 L515.88 78.77 L517.84 80.72 L519.81 82.67 L521.77 84.62 L523.73 86.55 L525.70 88.48 L527.66 90.38 L529.62 92.26 L531.59 94.10 L533.55 95.91 L535.51 97.67 L537.48 99.40 L539.44 101.08 L541.40 102.72 L543.37 104.31 L545.33 105.87 L547.30 107.39 L549.26 108.87 L551.22 110.31 L553.19 111.71 L555.15 113.07 L557.11 114.40 L559.08 115.69 L561.04 116.95 L563.00 118.17 L564.97 119.36 L566.93 120.51 L568.89 121.63 L570.86 122.72 L572.82 123.77 L574.78 124.79 L576.75 125.78 L578.71 126.75 L580.68 127.68 L582.64 128.59 L584.60 129.47 L586.57 130.32 L588.53 131.15 L590.49 131.95 L592.46 132.73 L594.42 133.49 L596.38 134.23 L598.35 134.95 L600.31 135.64 L602.27 136.32 L604.24 136.98 L606.20 137.63 L608.17 138.26 L610.13 138.87 L612.09 139.47 L614.06 140.06 L616.02 140.64 L617.98 141.20 L619.95 141.75 L621.91 142.30 L623.87 142.83 L625.84 143.35 L627.80 143.87 L629.76 144.38 L631.73 144.88 L633.69 145.37 L635.66 145.86 L637.62 146.34 L639.58 146.82 L641.55 147.30 L643.51 147.77 L645.47 148.24 L647.44 148.70 L649.40 149.17 L651.36 149.63" fill="none" stroke="#c99a22" stroke-width="1.75" stroke-linejoin="round"/>
<rect x="413.69" y="225.47" width="4.10" height="4.10" fill="#4f4f51"/>
<rect x="452.96" y="84.77" width="4.10" height="4.10" fill="#4f4f51"/>
<rect x="492.23" y="67.96" width="4.10" height="4.10" fill="#4f4f51"/>
<rect x="531.50" y="102.95" width="4.10" height="4.10" fill="#4f4f51"/>
<rect x="570.77" y="126.89" width="4.10" height="4.10" fill="#4f4f51"/>
<rect x="610.04" y="143.89" width="4.10" height="4.10" fill="#4f4f51"/>
<rect x="649.31" y="153.16" width="4.10" height="4.10" fill="#4f4f51"/>
<circle cx="415.74" cy="227.53" r="2.25" fill="#e8474d"/>
<circle cx="455.01" cy="76.40" r="2.25" fill="#e8474d"/>
<circle cx="494.28" cy="61.80" r="2.25" fill="#e8474d"/>
<circle cx="533.55" cy="97.09" r="2.25" fill="#e8474d"/>
<circle cx="572.82" cy="124.99" r="2.25" fill="#e8474d"/>
<circle cx="612.09" cy="140.95" r="2.25" fill="#e8474d"/>
<circle cx="651.36" cy="151.15" r="2.25" fill="#e8474d"/>
<polygon points="415.74,224.22 418.64,229.33 412.84,229.33" fill="#2f7fe0"/>
<polygon points="455.01,54.55 457.91,59.65 452.11,59.65" fill="#2f7fe0"/>
<polygon points="494.28,52.85 497.18,57.95 491.38,57.95" fill="#2f7fe0"/>
<polygon points="533.55,77.16 536.45,82.26 530.65,82.26" fill="#2f7fe0"/>
<polygon points="572.82,110.27 575.72,115.37 569.92,115.37" fill="#2f7fe0"/>
<polygon points="612.09,126.68 614.99,131.78 609.19,131.78" fill="#2f7fe0"/>
<polygon points="651.36,139.17 654.26,144.27 648.46,144.27" fill="#2f7fe0"/>
<polygon points="415.74,230.83 418.64,225.72 412.84,225.72" fill="#3ea873"/>
<polygon points="455.01,57.68 457.91,52.58 452.11,52.58" fill="#3ea873"/>
<polygon points="494.28,52.58 497.18,47.48 491.38,47.48" fill="#3ea873"/>
<polygon points="533.55,84.13 536.45,79.03 530.65,79.03" fill="#3ea873"/>
<polygon points="572.82,115.87 575.72,110.77 569.92,110.77" fill="#3ea873"/>
<polygon points="612.09,132.91 614.99,127.81 609.19,127.81" fill="#3ea873"/>
<polygon points="651.36,144.73 654.26,139.63 648.46,139.63" fill="#3ea873"/>
<polygon points="415.74,224.72 418.34,227.53 415.74,230.33 413.14,227.53" fill="#b67fe0"/>
<polygon points="455.01,61.85 457.61,64.65 455.01,67.45 452.41,64.65" fill="#b67fe0"/>
<polygon points="494.28,48.62 496.88,51.42 494.28,54.22 491.68,51.42" fill="#b67fe0"/>
<polygon points="533.55,85.53 536.15,88.33 533.55,91.13 530.95,88.33" fill="#b67fe0"/>
<polygon points="572.82,113.76 575.42,116.56 572.82,119.36 570.22,116.56" fill="#b67fe0"/>
<polygon points="612.09,133.35 614.69,136.15 612.09,138.95 609.49,136.15" fill="#b67fe0"/>
<polygon points="651.36,142.84 653.96,145.64 651.36,148.44 648.76,145.64" fill="#b67fe0"/>
<polygon points="412.14,227.53 417.64,224.62 417.64,230.43" fill="#c99a22"/>
<polygon points="451.41,72.63 456.91,69.73 456.91,75.53" fill="#c99a22"/>
<polygon points="490.68,59.14 496.18,56.24 496.18,62.04" fill="#c99a22"/>
<polygon points="529.95,95.91 535.45,93.01 535.45,98.81" fill="#c99a22"/>
<polygon points="569.22,123.77 574.72,120.87 574.72,126.67" fill="#c99a22"/>
<polygon points="608.49,139.47 613.99,136.57 613.99,142.37" fill="#c99a22"/>
<polygon points="647.76,149.63 653.26,146.73 653.26,152.53" fill="#c99a22"/>
<path d="M396.1 227.53 h4.0 M396.1 209.05 h2.4 M396.1 190.57 h4.0 M396.1 172.10 h2.4 M396.1 153.62 h4.0 M396.1 135.15 h2.4 M396.1 116.68 h4.0 M396.1 98.20 h2.4 M396.1 79.72 h4.0 M396.1 61.25 h2.4 M396.1 42.77 h4.0 M415.74 246.0 v-4.0 M435.37 246.0 v-2.4 M455.01 246.0 v-4.0 M474.64 246.0 v-2.4 M494.28 246.0 v-4.0 M513.91 246.0 v-2.4 M533.55 246.0 v-4.0 M553.19 246.0 v-2.4 M572.82 246.0 v-4.0 M592.46 246.0 v-2.4 M612.09 246.0 v-4.0 M631.73 246.0 v-2.4 M651.36 246.0 v-4.0" stroke="#4c4c4f" stroke-width="1.3" fill="none"/>
<rect x="396.1" y="24.3" width="274.90" height="221.70" fill="none" stroke="#4c4c4f" stroke-width="1.7" stroke-linejoin="round"/>
<text transform="translate(391.20 230.93) scale(1 1.035)" text-anchor="end" class="tk">0.00</text>
<text transform="translate(391.20 193.97) scale(1 1.035)" text-anchor="end" class="tk">0.01</text>
<text transform="translate(391.20 157.03) scale(1 1.035)" text-anchor="end" class="tk">0.02</text>
<text transform="translate(391.20 120.08) scale(1 1.035)" text-anchor="end" class="tk">0.03</text>
<text transform="translate(391.20 83.12) scale(1 1.035)" text-anchor="end" class="tk">0.04</text>
<text transform="translate(391.20 46.17) scale(1 1.035)" text-anchor="end" class="tk">0.05</text>
<text transform="translate(416.04 260.40) scale(1 1.035)" text-anchor="middle" class="tk">0</text>
<text transform="translate(455.31 260.40) scale(1 1.035)" text-anchor="middle" class="tk">10</text>
<text transform="translate(494.58 260.40) scale(1 1.035)" text-anchor="middle" class="tk">20</text>
<text transform="translate(533.85 260.40) scale(1 1.035)" text-anchor="middle" class="tk">30</text>
<text transform="translate(573.12 260.40) scale(1 1.035)" text-anchor="middle" class="tk">40</text>
<text transform="translate(612.39 260.40) scale(1 1.035)" text-anchor="middle" class="tk">50</text>
<text transform="translate(651.66 260.40) scale(1 1.035)" text-anchor="middle" class="tk">60</text>
<text transform="translate(533.70 278.90) scale(1 1.04)" text-anchor="middle" class="tt">Cavitation time (min)</text>
<text transform="translate(359.1 133.2) rotate(-90) scale(1 1.04)" text-anchor="middle" class="tt" style="font-size:14.75px">Production velocity (μmol/min)</text>
<text x="335.9" y="26.3" class="pl">(b)</text>
<path d="M473.7 144.30 H500.3" stroke="#4f4f51" stroke-width="1.4"/>
<rect x="484.95" y="142.25" width="4.10" height="4.10" fill="#4f4f51"/>
<text transform="translate(505.80 148.10) scale(1 1.035)" class="tk">15<tspan class="dg2">°</tspan>C</text>
<path d="M473.7 159.85 H500.3" stroke="#e8474d" stroke-width="1.4"/>
<circle cx="487.00" cy="159.85" r="2.25" fill="#e8474d"/>
<text transform="translate(505.80 163.65) scale(1 1.035)" class="tk">25<tspan class="dg2">°</tspan>C</text>
<path d="M473.7 175.40 H500.3" stroke="#2f7fe0" stroke-width="1.4"/>
<polygon points="487.00,172.10 489.90,177.20 484.10,177.20" fill="#2f7fe0"/>
<text transform="translate(505.80 179.20) scale(1 1.035)" class="tk">35<tspan class="dg2">°</tspan>C</text>
<path d="M473.7 190.95 H500.3" stroke="#3ea873" stroke-width="1.4"/>
<polygon points="487.00,194.25 489.90,189.15 484.10,189.15" fill="#3ea873"/>
<text transform="translate(505.80 194.75) scale(1 1.035)" class="tk">45<tspan class="dg2">°</tspan>C</text>
<path d="M473.7 206.50 H500.3" stroke="#b67fe0" stroke-width="1.4"/>
<polygon points="487.00,203.70 489.60,206.50 487.00,209.30 484.40,206.50" fill="#b67fe0"/>
<text transform="translate(505.80 210.30) scale(1 1.035)" class="tk">55<tspan class="dg2">°</tspan>C</text>
<path d="M473.7 222.05 H500.3" stroke="#c99a22" stroke-width="1.75"/>
<polygon points="483.40,222.05 488.90,219.15 488.90,224.95" fill="#c99a22"/>
<text transform="translate(505.80 225.85) scale(1 1.035)" class="tk">65<tspan class="dg2">°</tspan>C</text>
</svg>
</body></html>
